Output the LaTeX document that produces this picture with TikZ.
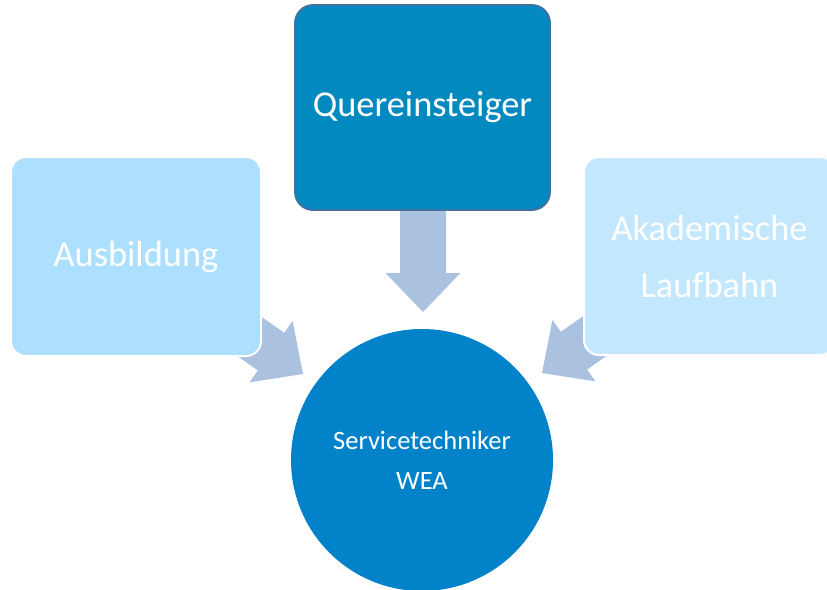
\documentclass[tikz,border=0pt]{standalone}
\usepackage{fontspec}
\setmainfont[Ligatures=NoCommon]{Carlito}
\definecolor{arrowc}{HTML}{ABC1E0}
\definecolor{boxL}{HTML}{ADDFFE}
\definecolor{boxR}{HTML}{C3E8FE}
\definecolor{boxT}{HTML}{028AC0}
\definecolor{boxTb}{HTML}{41719C}
\definecolor{circ}{HTML}{0283C9}
\begin{document}
\begin{tikzpicture}[x=1pt,y=-1pt,
  blockarrow/.pic={\fill[arrowc] (0,0) -- (-39,37.5) -- (-39,23) -- (-112,23) -- (-112,-23) -- (-39,-23) -- (-39,-37.5) -- cycle;},
  sidebox/.style={rectangle, rounded corners=15pt, draw=white, line width=2pt, text=white, align=center, font=\fontsize{36.4}{57}\selectfont},
  topbox/.style={rectangle, rounded corners=18pt, draw=boxTb, line width=1.8pt, fill=boxT, text=white, align=center, font=\fontsize{36.4}{44}\selectfont},
  center/.style={circle, fill=circ, text=white, align=center, inner sep=0pt, minimum size=262pt, font=\fontsize{26.5}{40}\selectfont}]
\useasboundingbox (0,0) rectangle (827,589);
\clip (0,0) rectangle (827,589);
\coordinate (tipT) at (423,312);
\coordinate (tipL) at (303,374);
\coordinate (tipR) at (542,373);
\path (tipT) pic[rotate=-90] {blockarrow};
\path (tipL) pic[rotate=-35] {blockarrow};
\path (tipR) pic[rotate=-145] {blockarrow};
\node[sidebox, fill=boxL, minimum width=250pt, minimum height=199pt] (aus) at (136,256.5) {\raisebox{-2pt}{Ausbildung}};
\node[sidebox, fill=boxR, minimum width=251pt, minimum height=198pt] (aka) at (709.5,256) {Akademische\\Laufbahn};
\node[topbox, minimum width=255pt, minimum height=205pt] (quer) at (422.5,107.5) {\raisebox{-3pt}{Quereinsteiger}};
\node[center] (swea) at (422,460) {Servicetechniker\\WEA};
\end{tikzpicture}
\end{document}
